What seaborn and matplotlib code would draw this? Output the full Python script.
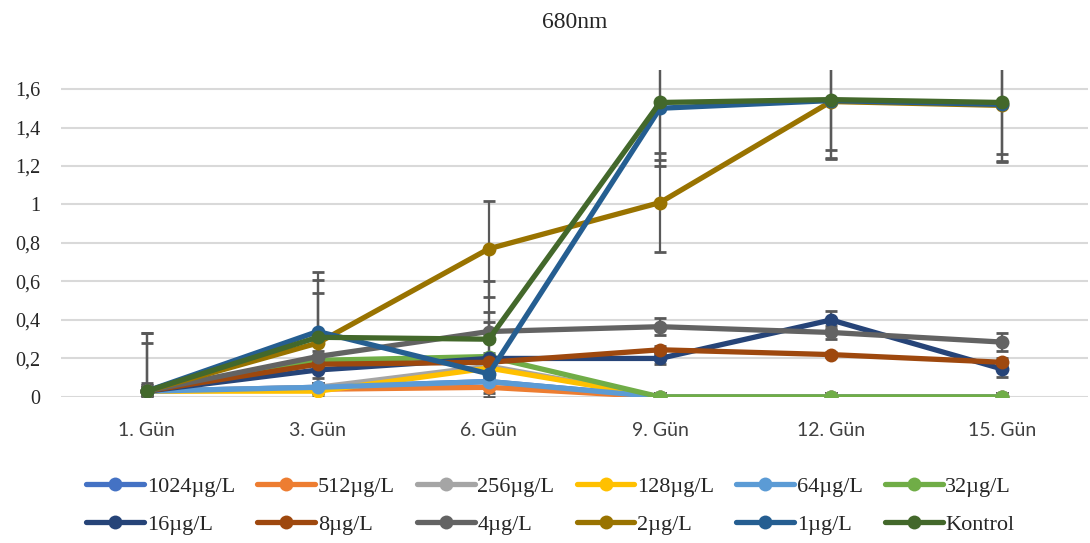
import matplotlib
matplotlib.use('Agg')
import matplotlib.pyplot as plt
import seaborn as sns
import pandas as pd
from matplotlib.ticker import FuncFormatter

# Data
days = ['1. Gün', '3. Gün', '6. Gün', '9. Gün', '12. Gün', '15. Gün']
series_names = ['1024µg/L', '512µg/L', '256µg/L', '128µg/L', '64µg/L', '32µg/L',
                '16µg/L', '8µg/L', '4µg/L', '2µg/L', '1µg/L', 'Kontrol']
colors = ['#4472C4', '#ED7D31', '#A5A5A5', '#FFC000', '#5B9BD5', '#70AD47',
          '#264478', '#9E480E', '#636363', '#997300', '#255E91', '#43682B']

v_1024 = [0.03, 0.05, 0.08, 0.0, 0.0, 0.0]
v_512 = [0.03, 0.04, 0.05, 0.0, 0.0, 0.0]
v_256 = [0.03, 0.05, 0.16, 0.0, 0.0, 0.0]
v_128 = [0.03, 0.03, 0.15, 0.0, 0.0, 0.0]
v_64 = [0.03, 0.05, 0.08, 0.0, 0.0, 0.0]
v_32 = [0.03, 0.19, 0.21, 0.0, 0.0, 0.0]
v_16 = [0.03, 0.14, 0.20, 0.20, 0.40, 0.145]
v_8 = [0.03, 0.17, 0.18, 0.245, 0.22, 0.18]
v_4 = [0.03, 0.21, 0.34, 0.365, 0.335, 0.285]
v_2 = [0.03, 0.28, 0.77, 1.01, 1.535, 1.515]
v_1 = [0.03, 0.34, 0.12, 1.50, 1.54, 1.52]
v_kontrol = [0.03, 0.31, 0.30, 1.53, 1.545, 1.53]

e_1024 = [0.02, 0.02, 0.02, 0.02, 0.02, 0.02]
e_512 = [0.02, 0.02, 0.03, 0.02, 0.02, 0.02]
e_256 = [0.02, 0.02, 0.02, 0.02, 0.02, 0.02]
e_128 = [0.02, 0.02, 0.02, 0.02, 0.02, 0.02]
e_64 = [0.02, 0.02, 0.02, 0.02, 0.02, 0.02]
e_32 = [0.02, 0.02, 0.02, 0.02, 0.02, 0.02]
e_16 = [0.03, 0.04, 0.02, 0.03, 0.045, 0.04]
e_8 = [0.03, 0.03, 0.02, 0.02, 0.015, 0.02]
e_4 = [0.04, 0.03, 0.05, 0.045, 0.035, 0.045]
e_2 = [0.25, 0.26, 0.25, 0.255, 0.30, 0.29]
e_1 = [0.30, 0.27, 0.32, 0.30, 0.30, 0.30]
e_kontrol = [0.30, 0.34, 0.30, 0.30, 0.26, 0.27]

values = [v_1024, v_512, v_256, v_128, v_64, v_32, v_16, v_8, v_4, v_2, v_1, v_kontrol]
errors = [e_1024, e_512, e_256, e_128, e_64, e_32, e_16, e_8, e_4, e_2, e_1, e_kontrol]

rows = []
for name, vals in zip(series_names, values):
    for i, v in enumerate(vals):
        rows.append({'day': i, 'value': v, 'series': name})
df = pd.DataFrame(rows)

sns.set_style('white')
plt.rcParams['font.family'] = ['Liberation Serif', 'DejaVu Serif']

fig = plt.figure(figsize=(10.9, 5.43), dpi=100)
ax = fig.add_axes([0.056, 0.269, 0.942, 0.6025])

# error bars (grey, drawn beneath the lines)
for vals, errs in zip(values, errors):
    ax.errorbar(range(len(days)), vals, yerr=errs, fmt='none', ecolor='#595959',
                elinewidth=1.6, capsize=4.6, capthick=2, zorder=1.5)

sns.lineplot(data=df, x='day', y='value', hue='series', hue_order=series_names,
             palette=colors, marker='o', markersize=10, markeredgewidth=0,
             linewidth=3.8, sort=False, ax=ax, zorder=2)

ax.set_xlim(-0.5, 5.5)
ax.set_ylim(0, 1.7)
ax.set_xticks(range(len(days)))
ax.set_xticklabels(days, fontfamily='Lato', fontsize=14)
ax.set_yticks([0, 0.2, 0.4, 0.6, 0.8, 1.0, 1.2, 1.4, 1.6])
ax.yaxis.set_major_formatter(FuncFormatter(lambda v, p: f'{v:.1f}'.rstrip('0').rstrip('.').replace('.', ',')))
ax.tick_params(axis='y', length=0, labelsize=14.5, colors='#262626', pad=15)
ax.tick_params(axis='x', length=0, colors='#404040', pad=18)
ax.set_xlabel('')
ax.set_ylabel('')
ax.grid(axis='y', color='#D9D9D9', linewidth=1.5)
ax.set_axisbelow(True)
for s in ax.spines.values():
    s.set_visible(False)

ax.set_title('680nm', fontsize=17, color='#262626', pad=30)

handles, labels = ax.get_legend_handles_labels()
ax.get_legend().remove()
# reorder so the legend fills row by row (6 per row)
order = [0, 6, 1, 7, 2, 8, 3, 9, 4, 10, 5, 11]
fig.legend([handles[i] for i in order], [labels[i] for i in order],
           loc='lower center', ncol=6, bbox_to_anchor=(0.505, -0.022),
           frameon=False, fontsize=16, handlelength=2.6, handletextpad=0.12,
           columnspacing=1.0, labelspacing=0.8, labelcolor='#262626')

fig.savefig('out.png', dpi=100)
